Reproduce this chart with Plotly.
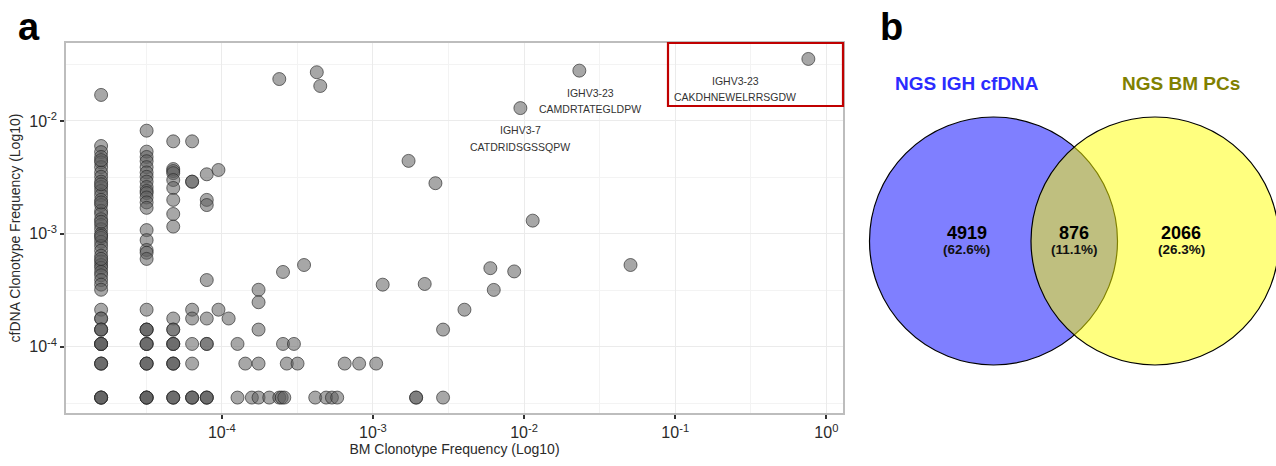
import plotly.graph_objects as go

W, H = 1276, 466

# ---------------- data: panel a (BM vs cfDNA clonotype frequencies) ----------------
col1_cf = [1.7e-2, 6.0e-3, 5.3e-3, 4.8e-3, 4.3e-3, 3.9e-3, 3.5e-3, 3.2e-3, 2.9e-3, 2.6e-3, 2.4e-3,
           2.2e-3, 2.0e-3, 1.8e-3, 1.6e-3, 1.5e-3, 1.35e-3, 1.2e-3, 1.1e-3, 1.0e-3, 9.2e-4, 8.5e-4,
           7.8e-4, 7.1e-4, 6.4e-4, 5.7e-4, 5.3e-4, 5.0e-4, 4.6e-4, 4.3e-4, 3.9e-4, 3.55e-4, 3.2e-4,
           4.5e-3, 2.75e-3, 1.9e-3, 1.28e-3, 9.6e-4, 6.0e-4,
           2.13e-4, 1.78e-4, 1.78e-4, 1.42e-4, 1.42e-4, 1.42e-4, 1.06e-4, 1.06e-4, 1.06e-4, 1.06e-4,
           7.1e-5, 7.1e-5, 7.1e-5, 3.55e-5, 3.55e-5, 3.55e-5, 3.55e-5]
col2_cf = [8.2e-3, 5.35e-3, 4.8e-3, 4.4e-3, 3.9e-3, 3.5e-3, 3.2e-3, 2.9e-3, 2.6e-3, 2.4e-3, 2.3e-3,
           2.1e-3, 1.9e-3, 1.7e-3, 1.08e-3, 8.8e-4, 7.2e-4, 6.8e-4, 6.0e-4, 2.13e-4,
           1.42e-4, 1.42e-4, 1.42e-4, 1.06e-4, 1.06e-4, 1.06e-4, 7.1e-5, 7.1e-5, 7.1e-5,
           3.55e-5, 3.55e-5, 3.55e-5, 3.55e-5]
col3_cf = [6.6e-3, 3.75e-3, 3.6e-3, 3.45e-3, 3.0e-3, 2.55e-3, 2.0e-3, 1.5e-3, 1.16e-3, 1.78e-4,
           1.42e-4, 1.42e-4, 1.06e-4, 1.06e-4, 1.06e-4, 7.1e-5, 7.1e-5, 7.1e-5, 3.55e-5, 3.55e-5,
           3.55e-5]
col4_cf = [6.6e-3, 2.9e-3, 2.9e-3, 2.13e-4, 1.78e-4, 1.06e-4, 7.1e-5, 3.55e-5, 3.55e-5, 3.55e-5]
col5_cf = [3.37e-3, 2.0e-3, 1.8e-3, 3.9e-4, 1.78e-4, 1.06e-4, 1.06e-4, 3.55e-5, 3.55e-5, 3.55e-5]

other_bm = ([9.5e-5, 9.5e-5, 1.11e-4]
            + [1.75e-4, 1.75e-4, 2.54e-4, 3.5e-4, 1.16e-3, 1.75e-4, 1.27e-4, 2.54e-4, 3.0e-4]
            + [1.43e-4, 1.75e-4, 2.69e-4, 3.17e-4, 6.5e-4, 8.1e-4, 1.05e-3]
            + [1.27e-4, 1.58e-4, 1.75e-4, 2.06e-4, 2.4e-4, 2.49e-4, 2.59e-4, 4.15e-4, 4.9e-4,
               5.35e-4, 5.8e-4, 1.93e-3, 1.93e-3, 2.91e-3]
            + [1.72e-3, 2.59e-3, 1.14e-2, 5.98e-3, 8.6e-3, 6.3e-3, 2.2e-3, 4.03e-3, 2.91e-3, 5.06e-2]
            + [2.4e-4, 4.25e-4, 4.48e-4, 2.32e-2, 9.45e-3, 0.76])
other_cf = ([3.68e-3, 2.13e-4, 1.78e-4]
            + [3.2e-4, 2.48e-4, 4.6e-4, 5.3e-4, 3.55e-4, 1.42e-4, 1.06e-4, 1.06e-4, 1.06e-4]
            + [7.1e-5] * 7
            + [3.55e-5] * 14
            + [4.43e-3, 2.81e-3, 1.31e-3, 4.97e-4, 4.65e-4, 3.19e-4, 3.6e-4, 2.13e-4, 1.42e-4, 5.3e-4]
            + [2.35e-2, 2.7e-2, 2.04e-2, 2.79e-2, 1.3e-2, 3.54e-2])

bm_cols = [1.59e-5, 3.18e-5, 4.77e-5, 6.36e-5, 7.95e-5]
col_cf = [col1_cf, col2_cf, col3_cf, col4_cf, col5_cf]

bm_freq = [b for b, cf in zip(bm_cols, col_cf) for _ in cf] + other_bm
cfdna_freq = [v for cf in col_cf for v in cf] + other_cf

x_tickvals = [1e-4, 1e-3, 1e-2, 1e-1, 1e0]
x_ticktext = ["10<sup>-4</sup>", "10<sup>-3</sup>", "10<sup>-2</sup>", "10<sup>-1</sup>", "10<sup>0</sup>"]
y_tickvals = [1e-4, 1e-3, 1e-2]
y_ticktext = ["10<sup>-4</sup>", "10<sup>-3</sup>", "10<sup>-2</sup>"]
x_minor = [10 ** -4.5, 10 ** -3.5, 10 ** -2.5, 10 ** -1.5, 10 ** -0.5]
y_minor = [10 ** -4.5, 10 ** -3.5, 10 ** -2.5, 10 ** -1.5]

clone_lines = ["IGHV3-23", "CAMDRTATEGLDPW", "IGHV3-7", "CATDRIDSGSSQPW",
               "IGHV3-23", "CAKDHNEWELRRSGDW"]

# ---------------- data: panel b (Venn) ----------------
venn_names = ["NGS IGH cfDNA", "NGS BM PCs"]
venn_counts = [4919, 876, 2066]  # cfDNA only, shared, BM only
total = sum(venn_counts)
venn_pcts = [100 * c / total for c in venn_counts]

FONT = "Liberation Sans, Arial, sans-serif"


def px(x):
    return x / W


def py(y):
    return 1 - y / H


fig = go.Figure()
fig.add_trace(go.Scatter(
    x=bm_freq, y=cfdna_freq, mode="markers",
    marker=dict(size=13, color="rgba(95,95,95,0.55)",
                line=dict(color="rgba(40,40,40,0.65)", width=1)),
    hoverinfo="x+y", showlegend=False,
))

axis_common = dict(
    type="log", showline=True, mirror=True, linecolor="#BDBDBD", linewidth=1.5,
    ticks="outside", ticklen=4, tickwidth=1.5, tickcolor="#333",
    tickfont=dict(family=FONT, size=16, color="#2a2a2a"),
    showgrid=True, gridcolor="#EBEBEB", gridwidth=1, zeroline=False,
)

fig.update_layout(
    width=W, height=H, autosize=False,
    margin=dict(l=0, r=0, t=0, b=0),
    paper_bgcolor="white", plot_bgcolor="white",
    font=dict(family=FONT),
    xaxis=dict(
        axis_common, domain=[px(66), px(843)], range=[-5.031, 0.11],
        tickmode="array", tickvals=x_tickvals, ticktext=x_ticktext,
        minor=dict(tickvals=x_minor, showgrid=True, gridcolor="#F3F3F3", gridwidth=1, ticks=""),
        title=dict(text="BM Clonotype Frequency (Log10)", font=dict(size=14, color="#2a2a2a"),
                   standoff=4),
    ),
    yaxis=dict(
        axis_common, domain=[py(413.3), py(42.7)], range=[-4.589, -1.307],
        tickmode="array", tickvals=y_tickvals, ticktext=y_ticktext,
        minor=dict(tickvals=y_minor, showgrid=True, gridcolor="#F3F3F3", gridwidth=1, ticks=""),
        title=dict(text="cfDNA Clonotype Frequency (Log10)", font=dict(size=14, color="#2a2a2a"),
                   standoff=5),
    ),
)

shapes = []
annotations = []

# highlight box around top clone
shapes.append(dict(type="rect", xref="paper", yref="paper",
                   x0=px(668), x1=px(843), y0=py(106), y1=py(43),
                   line=dict(color="#C00000", width=2.2), fillcolor="rgba(0,0,0,0)"))

clone_pos = [(590, 92.7), (590, 109), (520, 130), (520, 146.7), (735, 81), (735, 96.7)]
for t, (cx, cy) in zip(clone_lines, clone_pos):
    annotations.append(dict(text=t, x=px(cx), y=py(cy), xref="paper", yref="paper",
                            showarrow=False, xanchor="center", yanchor="middle",
                            font=dict(size=10.5, color="#333", family=FONT)))

# panel letters
annotations.append(dict(text="<b>a</b>", x=px(29), y=py(27), xref="paper", yref="paper",
                        showarrow=False, xanchor="center", yanchor="middle",
                        font=dict(size=38, color="black", family=FONT)))
annotations.append(dict(text="<b>b</b>", x=px(891), y=py(27), xref="paper", yref="paper",
                        showarrow=False, xanchor="center", yanchor="middle",
                        font=dict(size=38, color="black", family=FONT)))

# Venn circles
R = 124
cy_c = 241
centers = [993.5, 1155]
fills = ["rgba(0,0,255,0.5)", "rgba(255,255,0,0.5)"]
for cxc, fc in zip(centers, fills):
    shapes.append(dict(type="circle", xref="paper", yref="paper",
                       x0=px(cxc - R), x1=px(cxc + R), y0=py(cy_c + R), y1=py(cy_c - R),
                       fillcolor=fc, line=dict(color="black", width=1.2), layer="above"))

name_colors = ["#2B2BFF", "#808000"]
name_x = [966.7, 1181]
for n, c, xx in zip(venn_names, name_colors, name_x):
    annotations.append(dict(text="<b>%s</b>" % n, x=px(xx), y=py(83.5), xref="paper", yref="paper",
                            showarrow=False, xanchor="center", yanchor="middle",
                            font=dict(size=19, color=c, family=FONT)))

count_x = [966.7, 1074.3, 1181]
for cnt, pct, xx in zip(venn_counts, venn_pcts, count_x):
    annotations.append(dict(text="<b>%d</b>" % cnt, x=px(xx), y=py(233.5), xref="paper", yref="paper",
                            showarrow=False, xanchor="center", yanchor="middle",
                            font=dict(size=18, color="black", family=FONT)))
    annotations.append(dict(text="<b>(%.1f%%)</b>" % pct, x=px(xx), y=py(249.5), xref="paper",
                            yref="paper", showarrow=False, xanchor="center", yanchor="middle",
                            font=dict(size=13.5, color="#111", family=FONT)))

fig.update_layout(shapes=shapes, annotations=annotations)
fig.write_html("out.html")
